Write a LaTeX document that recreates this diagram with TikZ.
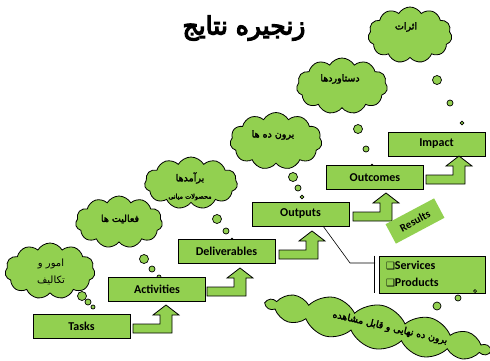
\documentclass[tikz,border=0pt]{standalone}
\usepackage{fontspec}
\setmainfont{Carlito}
\newfontfamily\arabicfont[Script=Arabic]{DejaVu Sans}
\newfontfamily\arabicbold[Script=Arabic, FakeBold=2.5]{DejaVu Sans}
\newfontfamily\arabictitle[Script=Arabic, FakeBold=5]{DejaVu Sans}
\newfontfamily\symfont{DejaVu Sans}
\TeXXeTstate=1
\usetikzlibrary{shapes.symbols}
\definecolor{lgreen}{HTML}{92D050}
\tikzset{
  box/.style={draw=black, line width=0.9pt, fill=lgreen, minimum width=97pt, minimum height=24pt, inner sep=0pt, font=\bfseries\fontsize{12}{14}\selectfont},
  puff/.style={cloud, cloud puffs=11, cloud puff arc=120, draw=black, line width=0.8pt, fill=lgreen, inner sep=0pt, aspect=1.6},
  atext/.style={font=\arabicbold\fontsize{9.5}{12}\selectfont, inner sep=0pt, align=center},
  bubble/.style={draw=black, line width=0.7pt, fill=lgreen},
  bentup/.pic={\draw[line width=0.8pt, fill=lgreen, line join=miter] (-33,19) -- (-6,19) -- (-6,10) -- (-13,10) -- (0,0) -- (13,10) -- (6,10) -- (6,28) -- (-33,28) -- cycle;},
}
\begin{document}
\begin{tikzpicture}[x=1pt,y=-1pt]
\fill[white] (0,0) rectangle (490,360);
\useasboundingbox (0,0) rectangle (490,360);

% title
\node[inner sep=0pt] (title) at (244,28) {\arabictitle\fontsize{25}{28}\selectfont\beginR زنجیره نتایج\endR};

% big cloud
\node[puff, cloud puffs=14, cloud puff arc=110, aspect=5, minimum width=228pt, minimum height=44pt, rotate=-12] (c7) at (378,327) {};
\node[atext, rotate=-13, font=\arabicbold\fontsize{9.5}{12}\selectfont] (t7) at (390,328) {\beginR برون ده نهایی و قابل مشاهده\endR};

% clouds
\node[puff, minimum width=90pt, minimum height=56pt] (c1) at (50,271) {};
\node[atext, font=\arabicfont\fontsize{10}{17}\selectfont] (t1) at (51,271.5) {\beginR امور و\endR\\\beginR تکالیف\endR};
\node[puff, minimum width=87pt, minimum height=52pt] (c2) at (119,222) {};
\node[atext] (t2) at (120,219) {\beginR فعالیت ها\endR};
\node[puff, minimum width=93pt, minimum height=52pt] (c3) at (191,183) {};
\node[atext] (t3a) at (190,178) {\beginR برآمدها\endR};
\node[atext, font=\arabicbold\fontsize{6.5}{8}\selectfont] (t3b) at (190,197) {\beginR محصولات میانی\endR};
\node[puff, minimum width=92pt, minimum height=57pt] (c4) at (276,141) {};
\node[atext] (t4) at (273,135) {\beginR برون ده ها\endR};
\node[puff, minimum width=91pt, minimum height=56pt] (c5) at (342,86) {};
\node[atext] (t5) at (340,79) {\beginR دستاوردها\endR};
\node[puff, minimum width=84pt, minimum height=56pt] (c6) at (410,35) {};
\node[atext] (t6) at (406,27) {\beginR اثرات\endR};

% bubbles
\draw[bubble] (82,296) circle (4.5); \draw[bubble] (88,302) circle (3); \draw[bubble] (93,307) circle (2);
\draw[bubble] (144,259) circle (4.5); \draw[bubble] (152,269) circle (3); \draw[bubble] (159,277) circle (2);
\draw[bubble] (217,219) circle (4.5); \draw[bubble] (226,231) circle (3); \draw[bubble] (232,240) circle (1.8);
\draw[bubble] (293,177) circle (4.5); \draw[bubble] (298,188) circle (3); \draw[bubble] (302,197) circle (1.8);
\draw[bubble] (358,129) circle (4.5); \draw[bubble] (366,149) circle (3); \draw[bubble] (372,166) circle (1.8);
\draw[bubble] (437,80) circle (4.5); \draw[bubble] (450,103) circle (3); \draw[bubble] (462,123) circle (1.8);

% boxes
\node[box] (tasks) at (81.5,326) {Tasks};
\node[box] (act) at (157,289) {Activities};
\node[box] (del) at (226.5,251.5) {Deliverables};
\node[box] (out) at (300.5,214) {Outputs};
\node[box] (outc) at (375,177.5) {Outcomes};
\node[box] (imp) at (436.5,144) {Impact};

% bent arrows
\pic at (166,305) {bentup};
\pic at (240,268) {bentup};
\pic at (312,231) {bentup};
\pic at (386,193) {bentup};
\pic at (459,156) {bentup};

% results
\node[fill=lgreen, minimum width=55pt, minimum height=22pt, inner sep=0pt, rotate=28, font=\bfseries\fontsize{11}{13}\selectfont] (res) at (415,221) {Results};

% services box
\node[draw=black, line width=0.9pt, fill=lgreen, text width=92pt, inner xsep=7pt, inner ysep=0pt, minimum height=37pt, align=left, font=\bfseries\fontsize{12}{17}\selectfont] (svc) at (432,274.5) {{\symfont\mdseries\fontsize{10}{17}\selectfont ❑}Services\\{\symfont\mdseries\fontsize{10}{17}\selectfont ❑}Products};
\draw[bubble] (437,306) circle (4); \draw[bubble] (458,298) circle (3); \draw[bubble] (475,291) circle (1.5);

% callout
\coordinate (cs) at (323,226);
\coordinate (ck) at (350,263);
\coordinate (ce) at (375,263);
\draw[line width=0.6pt] (cs) -- (ck) -- (ce);
\draw[line width=0.8pt] ([xshift=-4pt]svc.north west) -- ([xshift=-4pt]svc.south west);
\end{tikzpicture}
\end{document}
